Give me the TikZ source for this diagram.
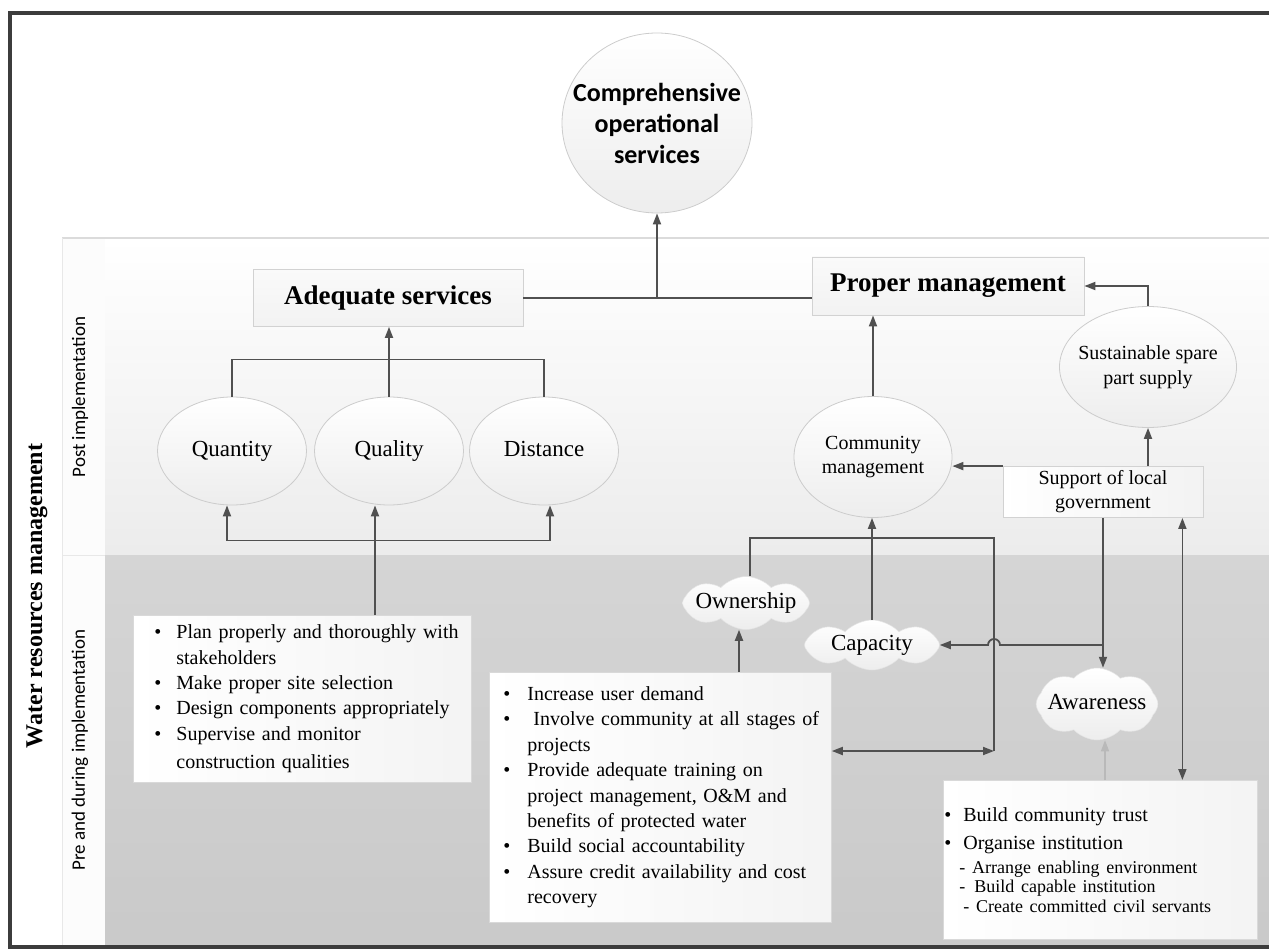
\documentclass[tikz,border=0pt]{standalone}
\usepackage{fontspec}
\setmainfont{Liberation Serif}
\newfontfamily\calibfont{Carlito}
\usetikzlibrary{shapes,arrows.meta,positioning,calc}
\definecolor{framegray}{RGB}{60,60,60}
\definecolor{linegray}{RGB}{80,80,80}
\newcommand{\setfs}[2]{\fontsize{#1}{#2}\selectfont}
\newcommand{\bul}[1][20pt]{\makebox[#1][l]{\textbullet}}

\tikzset{
  conn/.style={draw=linegray, line width=1.8pt},
  arr/.style={conn, -{Triangle[length=11pt,width=8pt]}},
  dblarr/.style={conn, {Triangle[length=11pt,width=8pt]}-{Triangle[length=11pt,width=8pt]}},
  ovalnode/.style={ellipse, top color=white, bottom color=gray!14, draw=gray!40, line width=0.8pt, inner sep=0pt, align=center},
  oneline/.style={text height=16pt, text depth=5pt},
  svcbox/.style={rectangle, top color=gray!4, bottom color=gray!10, draw=gray!35, line width=0.8pt, inner sep=0pt},
  puff/.style={cloud, cloud puffs=8, cloud puff arc=95, cloud ignores aspect, top color=white, bottom color=white!93!black, draw=gray!22, line width=0.5pt, inner sep=-4pt, font=\setfs{23}{27}, text height=16pt, text depth=5pt},
  listbox/.style={rectangle, anchor=north west, left color=white, right color=gray!9, draw=gray!30, line width=0.8pt, inner xsep=0pt, inner ysep=0pt, align=left, font=\setfs{20}{25.4}}
}

\begin{document}
\begin{tikzpicture}[x=1pt,y=-1pt]
\useasboundingbox (0,0) rectangle (1269,949);

% bands
\fill[top color=white, bottom color=gray!15] (62,238) rectangle (1275,555);
\fill[top color=gray!33, bottom color=gray!42] (105,555) rectangle (1275,947);
\fill[gray!2] (62,238) rectangle (105,947);
\draw[gray!28, line width=2pt] (62,238) -- (1275,238);
\draw[gray!18, line width=1pt] (62,555) -- (105,555);
\draw[gray!18, line width=1pt] (62,238) -- (62,947);
\draw[framegray, line width=4pt] (1275,13) -- (10,13) -- (10,947) -- (1275,947);

% side labels
\node[rotate=90, font=\bfseries\setfs{24}{28}] (wrm) at (37,596) {Water resources management};
\node[rotate=90, font=\calibfont\setfs{19}{22}] (post) at (80,397) {Post implementation};
\node[rotate=90, font=\calibfont\setfs{19}{22}] (pre) at (80,750) {Pre and during implementation};

% top goal
\node[ovalnode, inner xsep=-18pt, minimum width=190, minimum height=180, font=\calibfont\bfseries\setfs{26}{31}] (comp) at (657,123) {Comprehensive\\operational\\services};

\node[svcbox, minimum width=270, minimum height=57, font=\bfseries\setfs{27}{30}] (adeq) at (388,298) {Adequate services};
\node[svcbox, minimum width=272, minimum height=58, font=\bfseries\setfs{27}{30}] (propm) at (948,286) {Proper management};

% service ellipses
\node[ovalnode, oneline, minimum width=149, minimum height=108, font=\setfs{23}{27}] (qty) at (232,451) {Quantity};
\node[ovalnode, oneline, minimum width=149, minimum height=108, font=\setfs{23}{27}] (qual) at (389,451) {Quality};
\node[ovalnode, oneline, minimum width=149, minimum height=108, font=\setfs{23}{27}] (dist) at (544,451) {Distance};

\node[ovalnode, minimum width=158, minimum height=121, font=\setfs{20}{24}] (comm) at (873,457) {Community\\management};
\node[ovalnode, inner xsep=-10pt, minimum width=177, minimum height=121, font=\setfs{20}{25}] (spare) at (1148,367) {Sustainable spare\\part supply};
\node[svcbox, left color=white, right color=gray!10, minimum width=200, minimum height=51, align=center, font=\setfs{20}{24}] (support) at (1103,492) {Support of local\\government};

% clouds
\node[puff, minimum width=127, minimum height=53] (own) at (746,603) {Ownership};
\node[puff, minimum width=135, minimum height=50] (cap) at (872,645) {Capacity};
\node[puff, minimum width=119, minimum height=72] (aware) at (1097,704) {Awareness};

% lists
\node[listbox, minimum width=338, minimum height=167, text width=338] (plan) at (133,615) {%
\hspace*{21pt}\bul[22pt]Plan properly and thoroughly with\\
\hspace*{43pt}stakeholders\\
\hspace*{21pt}\bul[22pt]Make proper site selection\\
\hspace*{21pt}\bul[22pt]Design components appropriately\\
\hspace*{21pt}\bul[22pt]Supervise and monitor\\[3pt]
\hspace*{43pt}construction qualities};

\node[listbox, minimum width=342, minimum height=250, text width=342] (incr) at (489,672) {%
\hspace*{14pt}\bul[24pt]Increase user demand\\
\hspace*{14pt}\bul[24pt]\hspace*{6pt}Involve community at all stages of\\
\hspace*{38pt}projects\\
\hspace*{14pt}\bul[24pt]Provide adequate training on\\
\hspace*{38pt}project management, O\&M and\\
\hspace*{38pt}benefits of protected water\\
\hspace*{14pt}\bul[24pt]Build social accountability\\
\hspace*{14pt}\bul[24pt]Assure credit availability and cost\\
\hspace*{38pt}recovery};

\node[listbox, minimum width=314, minimum height=159, text width=314] (trust) at (943,780) {%
\hspace*{1pt}\bul[19pt]Build community trust\\[3pt]
\hspace*{1pt}\bul[19pt]Organise institution\\[-2pt]
{\setfs{18}{19}\hspace*{16pt}- Arrange enabling environment}\\[-6pt]
{\setfs{18}{19}\hspace*{16pt}-\hspace*{9pt}Build capable institution}\\[-6pt]
{\setfs{18}{19}\hspace*{20pt}- Create committed civil servants}};

% connectors, upper part
\coordinate (jtop) at (adeq.east -| comp.south);
\draw[conn] (adeq.east) -- (adeq.east -| propm.west);
\draw[arr] (jtop) -- (comp.south);
\draw[conn] (qty.north) -- ++(0,-37) -| (dist.north);
\draw[arr] (qual.north) -- (qual.north |- adeq.south);
\draw[dblarr] ([xshift=-5pt]qty.south) -- ++(0,35) -| ([xshift=6pt]dist.south);
\draw[arr] ([xshift=-14pt]qual.south |- plan.north) -- ([xshift=-14pt]qual.south);
\draw[arr] (comm.north) -- (comm.north |- propm.south);
\draw[arr] (spare.north) |- (propm.east);
\draw[arr] (support.north -| spare.south) -- (spare.south);
\draw[arr] (support.north west) -- (support.north west -| comm.east);

% connectors, lower part
\coordinate (loopne) at (994,538);
\coordinate (loopse) at (994,751);
\draw[conn] ([xshift=4pt]own.north) |- (loopne) -- (loopse);
\draw[dblarr] (incr.east |- loopse) -- (loopse);
\draw[arr] ([xshift=-7pt]own.south |- incr.north) -- ([xshift=-7pt]own.south);
\draw[arr] (cap.north) -- (cap.north |- comm.south);
\draw[arr] (support.south) -- (support.south |- aware.north);
\draw[arr] (support.south |- cap.east) -- ([xshift=6pt]loopne |- cap.east) arc[start angle=0, end angle=-180, radius=6] -- (cap.east);
\draw[arr, draw=gray!55, line width=1.2pt] ([xshift=8pt]aware.south |- trust.north) -- ([xshift=8pt]aware.south);
\draw[dblarr] ([xshift=-21pt]support.south east) -- ([xshift=-21pt]support.south east |- trust.north);
\end{tikzpicture}
\end{document}
